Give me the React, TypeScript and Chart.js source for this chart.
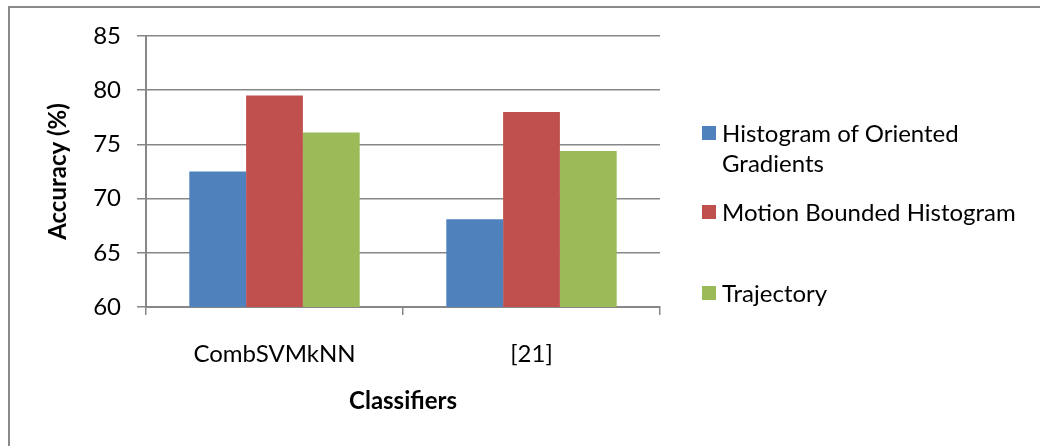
import React, { useEffect, useRef } from "react";
import { Chart, registerables } from "chart.js";

Chart.register(...registerables);

const categories = ["CombSVMkNN", "[21]"];
const seriesNames = ["Histogram of Oriented Gradients", "Motion Bounded Histogram", "Trajectory"];
const hogValues = [72.5, 68.1];
const mbhValues = [79.5, 78.0];
const trajValues = [76.1, 74.4];
const seriesColors = ["#4F81BD", "#C0504D", "#9BBB59"];
const yMin = 60;
const yMax = 85;
const yStep = 5;
const yTitle = "Accuracy (%)";
const xTitle = "Classifiers";

const FONT = "Lato, 'Liberation Sans', sans-serif";
const GRID = "#878787";

const legendCenters = [133, 212, 293];

export default function App() {
  const ref = useRef<HTMLCanvasElement | null>(null);

  useEffect(() => {
    if (!ref.current) return;
    const seriesValues = [hogValues, mbhValues, trajValues];
    const chart = new Chart(ref.current, {
      type: "bar",
      data: {
        labels: categories,
        datasets: seriesNames.map((name, i) => ({
          label: name,
          data: seriesValues[i],
          backgroundColor: seriesColors[i],
          borderWidth: 0,
          categoryPercentage: 0.663,
          barPercentage: 1.0,
        })),
      },
      options: {
        responsive: false,
        animation: false,
        devicePixelRatio: 1,
        layout: { padding: { left: 40, top: 36, right: 380, bottom: 26 } },
        plugins: {
          legend: { display: false },
          tooltip: { enabled: false },
          title: { display: false },
        },
        scales: {
          x: {
            afterFit: (s: any) => {
              s.height = 113;
            },
            grid: {
              drawOnChartArea: false,
              drawTicks: true,
              tickLength: 8,
              color: GRID,
              lineWidth: 1.5,
            },
            border: { display: true, color: GRID, width: 2 },
            ticks: {
              color: "#000",
              font: { family: FONT, size: 24 },
              padding: 25,
            },
            title: {
              display: true,
              text: xTitle,
              color: "#000",
              font: { family: FONT, size: 24, weight: "bold" },
              padding: { top: 4, bottom: 4 },
            },
          },
          y: {
            min: yMin,
            max: yMax,
            afterFit: (s: any) => {
              s.width = 106;
            },
            grid: {
              color: GRID,
              lineWidth: 1.5,
              drawTicks: true,
              tickLength: 9,
            },
            border: { display: true, color: GRID, width: 2 },
            ticks: {
              stepSize: yStep,
              color: "#000",
              font: { family: FONT, size: 24 },
              padding: 16,
            },
            title: {
              display: true,
              text: yTitle,
              color: "#000",
              font: { family: FONT, size: 24, weight: "bold" },
              padding: { top: 4, bottom: 4 },
            },
          },
        },
      },
    });
    return () => chart.destroy();
  }, []);

  return (
    <div
      style={{
        position: "fixed",
        left: 0,
        top: 0,
        width: 1040,
        height: 446,
        background: "#fff",
        overflow: "hidden",
      }}
    >
      <div
        style={{
          position: "absolute",
          left: 8,
          top: 6,
          width: 1100,
          height: 500,
          borderLeft: "2px solid #8a8a8a",
          borderTop: "2px solid #8a8a8a",
        }}
      />
      <canvas
        ref={ref}
        width={1040}
        height={446}
        style={{ position: "absolute", left: 0, top: 0, display: "block" }}
      />
      {seriesNames.map((name, i) => (
        <div key={name}>
          <div
            style={{
              position: "absolute",
              left: 702,
              top: legendCenters[i] - 7,
              width: 14,
              height: 14,
              background: seriesColors[i],
            }}
          />
          <div
            style={{
              position: "absolute",
              left: 722,
              top: legendCenters[i] - 15,
              width: 312,
              fontFamily: FONT,
              fontSize: 24,
              lineHeight: "30px",
              color: "#000",
            }}
          >
            {name}
          </div>
        </div>
      ))}
    </div>
  );
}
